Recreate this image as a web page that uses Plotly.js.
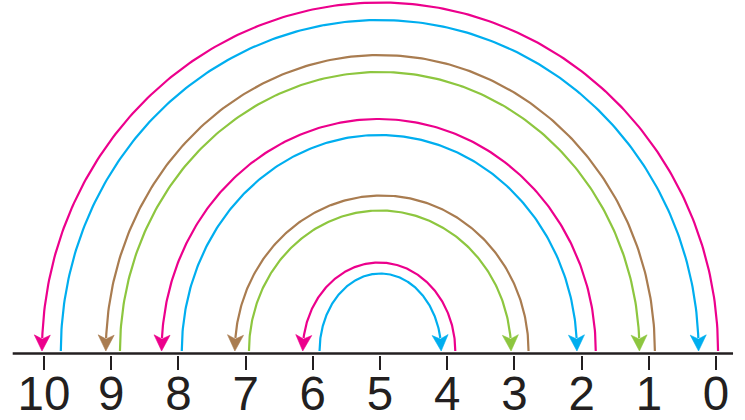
<!DOCTYPE html>
<html><head><meta charset="utf-8">
<script src="https://cdn.plot.ly/plotly-3.0.1.min.js"></script>
<style>html,body{margin:0;padding:0;background:#fff}#chart{width:745px;height:420px}</style>
</head><body><div id="chart"></div>
<script>
// Number line ticks
const tickValues = [0, 1, 2, 3, 4, 5, 6, 7, 8, 9, 10];
const tickLabels = ['0', '1', '2', '3', '4', '5', '6', '7', '8', '9', '10'];
// Jumps: each arc goes from its tail value to its arrow-head value
const arcTails   = [-0.03, 9.75, 0.91, 8.87, 1.79, 7.95, 2.79, 6.95, 3.88, 5.90];
const arcHeads   = [10.03, 0.26, 9.08, 1.14, 8.25, 2.07, 7.16, 3.05, 6.15, 4.09];
const arcHeights = [351, 333.5, 298.5, 281.5, 234.5, 218.5, 158, 143, 91, 80];
const axisExtent = [10.466, -0.253];

// styles
const MAG = '#EC008C', CYA = '#00AEEF', BRN = '#A97C50', GRN = '#8DC63F';
const arcColors = [MAG, CYA, BRN, GRN, MAG, CYA, BRN, GRN, MAG, CYA];
const INK = '#231F20';
const W = 745, H_PLOT = 355;
const X_RANGE = [10.655, -0.431], Y_RANGE = [-1.5, 353.5];
const pxX = W / (X_RANGE[0] - X_RANGE[1]);       // px per x unit (axis reversed)
const pxY = H_PLOT / (Y_RANGE[1] - Y_RANGE[0]);  // px per y unit
const baseY = 2.5;       // arcs start/end just above the line
const headLen = 16, headHalfW = 8, notch = 4;

const traces = [];

traces.push({
  x: axisExtent, y: [0, 0], mode: 'lines', type: 'scatter',
  line: {color: INK, width: 2.6}, hoverinfo: 'skip', showlegend: false
});

for (let i = 0; i < arcTails.length; i++) {
  const c = (arcTails[i] + arcHeads[i]) / 2;
  const hw = (arcTails[i] - arcHeads[i]) / 2;
  const H = arcHeights[i] - baseY;
  const stopUp = headLen - notch + 1;
  const tEnd = Math.PI - Math.asin(stopUp / (H * pxY));
  const xs = [], ys = [];
  const n = 240;
  for (let k = 0; k <= n; k++) {
    const t = tEnd * k / n;
    xs.push(c + hw * Math.cos(t));
    ys.push(baseY + H * Math.sin(t));
  }
  traces.push({
    x: xs, y: ys, mode: 'lines', type: 'scatter',
    line: {color: arcColors[i], width: 2.2},
    hoverinfo: 'skip', showlegend: false
  });
  // arrow head: screen-space polygon along the direction of arrival
  const tipS = [-arcHeads[i] * pxX, -baseY * pxY];
  const fromS = [-xs[n] * pxX, -ys[n] * pxY];
  let dx = tipS[0] - fromS[0], dy = tipS[1] - fromS[1];
  const L = Math.hypot(dx, dy); dx /= L; dy /= L;
  const px = -dy, py = dx;
  const ptsS = [
    tipS,
    [tipS[0] - dx * headLen + px * headHalfW, tipS[1] - dy * headLen + py * headHalfW],
    [tipS[0] - dx * (headLen - notch), tipS[1] - dy * (headLen - notch)],
    [tipS[0] - dx * headLen - px * headHalfW, tipS[1] - dy * headLen - py * headHalfW],
    tipS
  ];
  traces.push({
    x: ptsS.map(p => -p[0] / pxX), y: ptsS.map(p => -p[1] / pxY),
    mode: 'lines', type: 'scatter', fill: 'toself', fillcolor: arcColors[i],
    line: {color: arcColors[i], width: 0.6},
    hoverinfo: 'skip', showlegend: false
  });
}

const layout = {
  width: W, height: 420,
  margin: {l: 0, r: 0, t: 0, b: 420 - H_PLOT, pad: 0},
  paper_bgcolor: '#ffffff', plot_bgcolor: '#ffffff',
  showlegend: false,
  xaxis: {
    range: X_RANGE, fixedrange: true,
    showgrid: false, zeroline: false, showline: false,
    tickmode: 'array', tickvals: tickValues, ticktext: tickLabels,
    ticks: 'outside', ticklen: 14, tickwidth: 2, tickcolor: INK,
    tickfont: {family: 'Liberation Sans, Arial, sans-serif', size: 47.5, color: INK},
    ticklabelstandoff: -17
  },
  yaxis: {range: Y_RANGE, visible: false, fixedrange: true}
};

Plotly.newPlot('chart', traces, layout, {displayModeBar: false, staticPlot: true});
</script>
</body></html>
